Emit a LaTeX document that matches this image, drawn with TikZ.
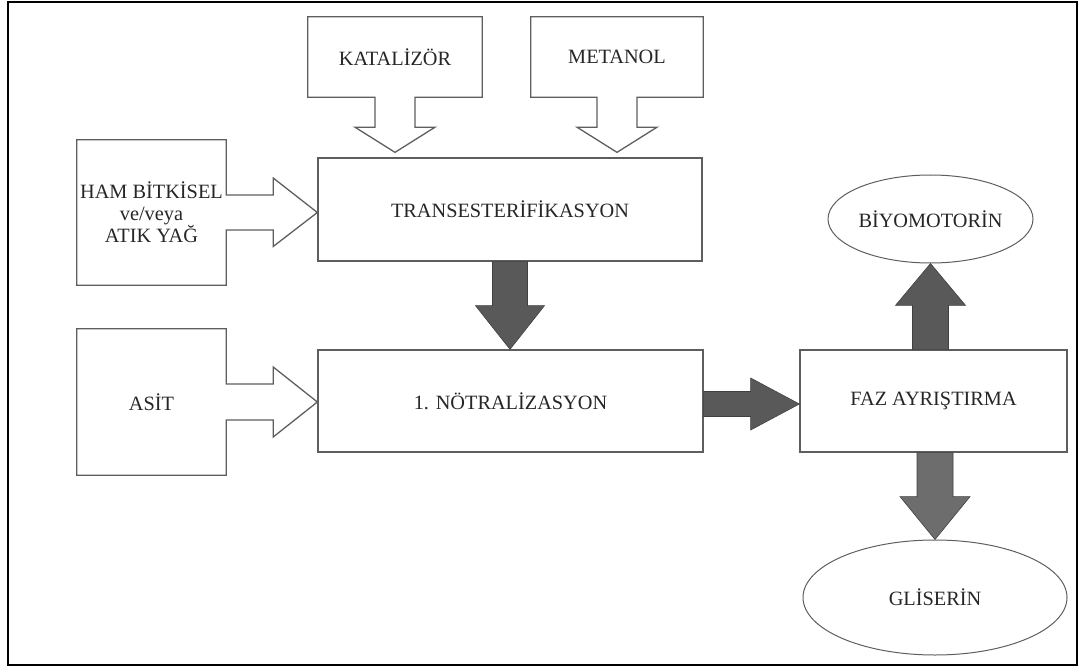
\documentclass[tikz,border=0pt]{standalone}
\usepackage{fontspec}
\setmainfont{Liberation Serif}
\usetikzlibrary{calc,shapes.geometric}
\definecolor{linegray}{HTML}{5E5E5E}
\definecolor{darkfill}{HTML}{595959}
\definecolor{lightfill}{HTML}{6D6D6D}
\tikzset{
	txt/.style={font=\fontsize{20.3}{21.5}\selectfont, text=black!85, inner sep=0pt},
	box/.style={txt, rectangle, draw=linegray, line width=1.3pt},
	inbox/.style={txt, rectangle, align=center},
	outline/.style={draw=linegray, line width=1.3pt, line join=miter},
	oval/.style={txt, ellipse, draw=linegray, line width=1pt},
	fatarrow/.style={fill=darkfill, draw=black!75, line width=0.6pt},
}

\begin{document}
\begin{tikzpicture}[x=1pt, y=-1pt]
			%%%%% START %%%%%
			\useasboundingbox (0, 0) rectangle (1092, 668);
			\draw[line width=2.5pt] (8, 2) rectangle (1077, 665);
			
			\node[box, minimum width=384, minimum height=103] (trans) at (510, 209.5) {TRANSESTERİFİKASYON};
			\node[box, minimum width=385, minimum height=102] (notr) at (510.5, 401) {1. NÖTRALİZASYON};
			\node[box, minimum width=267, minimum height=102] (faz) at (933.5, 401) {FAZ AYRIŞTIRMA};
			
			\node[oval, minimum width=205, minimum height=88] (bio) at (930.5, 219) {BİYOMOTORİN};
			\node[oval, minimum width=264, minimum height=115] (gli) at (935, 597.5) {GLİSERİN};
			
			\node[inbox, minimum width=174, minimum height=80] (kat) at (395, 57) {KATALİZÖR};
			\node[inbox, minimum width=172, minimum height=80] (met) at (617, 57) {METANOL};
			\node[inbox, minimum width=149, minimum height=145] (ham) at (151.5, 212.5) {HAM BİTKİSEL\\ve/veya\\ATIK YAĞ};
			\node[inbox, minimum width=149, minimum height=146] (asit) at (151.5, 402) {ASİT};
			
			% inputs
			\draw[outline] (kat.north west) -- (kat.north east) -- (kat.south east)
				-- ($(kat.south)+(20, 0)$) -- ++(0, 30) -- ++(20, 0) -- ($(kat.south |- trans.north)+(0, -5)$)
				-- ($(kat.south)+(-40, 30)$) -- ++(20, 0) -- ($(kat.south)+(-20, 0)$) -- (kat.south west) -- cycle;
			\draw[outline] (met.north west) -- (met.north east) -- (met.south east)
				-- ($(met.south)+(20, 0)$) -- ++(0, 30) -- ++(20, 0) -- ($(met.south |- trans.north)+(0, -5)$)
				-- ($(met.south)+(-40, 30)$) -- ++(20, 0) -- ($(met.south)+(-20, 0)$) -- (met.south west) -- cycle;
			\draw[outline] (ham.north west) -- (ham.north east) -- ($(ham.east)+(0, -17.5)$)
				-- ++(47, 0) -- ++(0, -17) -- (ham.east -| trans.west)
				-- ($(ham.east)+(47, 34)$) -- ++(0, -16.5) -- ($(ham.east)+(0, 17.5)$)
				-- (ham.south east) -- (ham.south west) -- cycle;
			\draw[outline] (asit.north west) -- (asit.north east) -- ($(asit.east)+(0, -18)$)
				-- ++(47, 0) -- ++(0, -17) -- (asit.east -| notr.west)
				-- ($(asit.east)+(47, 35)$) -- ++(0, -17) -- ($(asit.east)+(0, 18)$)
				-- (asit.south east) -- (asit.south west) -- cycle;
			
			% process flow
			\draw[fatarrow] ($(trans.south)+(-17.5, 0)$) -- ++(0, 44) -- ++(-17, 0) -- (trans.south |- notr.north)
				-- ($(trans.south)+(34.5, 44)$) -- ++(-17, 0) -- ($(trans.south)+(17.5, 0)$) -- cycle;
			\draw[fatarrow] ($(notr.east)+(0, -9.5)$) -- ++(47, 0) -- ++(0, -13.5) -- ($(notr.east -| faz.west)+(0, 3)$)
				-- ($(notr.east)+(47, 29)$) -- ++(0, -13.5) -- ($(notr.east)+(0, 15.5)$) -- cycle;
			\draw[fatarrow] ($(bio.south |- faz.north)+(-18, 0)$) -- ++(0, -44) -- ++(-17, 0) -- (bio.south)
				-- ($(bio.south |- faz.north)+(35, -44)$) -- ++(-17, 0) -- ($(bio.south |- faz.north)+(18, 0)$) -- cycle;
			\draw[fatarrow, fill=lightfill] ($(gli.north |- faz.south)+(-18, 0)$) -- ++(0, 44) -- ++(-17, 0) -- (gli.north)
				-- ($(gli.north |- faz.south)+(35, 44)$) -- ++(-17, 0) -- ($(gli.north |- faz.south)+(18, 0)$) -- cycle;
			
			%%%%% END %%%%%
\end{tikzpicture}
\end{document}
